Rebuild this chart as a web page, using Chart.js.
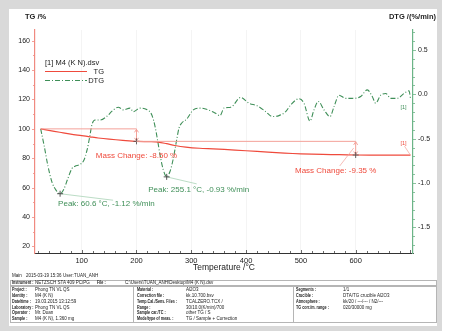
<!DOCTYPE html>
<html><head><meta charset="utf-8">
<script src="https://cdn.jsdelivr.net/npm/chart.js@4/dist/chart.umd.min.js"></script>
<style>
html,body{margin:0;padding:0;background:#fff;width:449px;height:331px;overflow:hidden;font-family:"Liberation Sans",Arial,sans-serif;}
#frame{position:absolute;left:0;top:0;width:442px;height:331px;background:#d9d9d9;}
#page{position:absolute;left:9px;top:9px;width:428px;height:317px;background:#fff;}
#c{position:absolute;left:0;top:0;}
.t{position:absolute;font-size:10px;color:#222;white-space:nowrap;line-height:10px;transform:scale(0.45);transform-origin:0 50%;}
.b{font-weight:bold;transform:scale(0.37,0.45);}
.box{position:absolute;border:0.8px solid #b5b5b5;box-sizing:border-box;}
.vl{position:absolute;width:0;border-left:0.8px solid #b5b5b5;}
</style></head>
<body>
<div id="frame"></div><div id="page"></div>
<canvas id="c" width="449" height="278"></canvas>
<div id="info"></div>
<script>
// ---------- data ----------
const tgTemp = [25.2, 40, 60, 80, 100, 115, 130, 150, 175, 200, 225, 240, 255, 270, 290, 315, 340, 360, 400, 440, 470, 500, 540, 570, 600, 650, 700];
const tgMass = [100.0, 99.0, 97.7, 96.4, 95.4, 94.6, 93.8, 93.0, 92.2, 91.5, 91.3, 91.0, 89.9, 88.7, 87.6, 86.8, 86.4, 86.0, 85.1, 84.2, 83.5, 83.0, 82.6, 82.4, 82.2, 82.1, 82.1];
const dtgTemp = [25.2, 31.2, 38.5, 45.8, 53.1, 60.6, 67.7, 74.1, 81.8, 87.8, 96.9, 104.2, 109.7, 114.3, 118.8, 124.3, 133.4, 145.6, 155.3, 166.8, 175.9, 188.2, 194.2, 206.4, 218.6, 227.8, 233.8, 238.3, 242.9, 248.9, 255.1, 261.1, 266.6, 273.4, 277.6, 283.0, 291.6, 303.7, 315.9, 331.0, 343.3, 352.4, 359.7, 372.1, 390.2, 405.3, 420.5, 435.8, 447.8, 460.0, 472.3, 481.4, 496.6, 505.7, 516.6, 523.9, 531.8, 542.2, 553.1, 560.4, 569.6, 581.8, 593.8, 609.2, 621.2, 630.3, 636.5, 645.6, 654.8, 663.9, 675.9, 688.2, 697.3, 700.4];
const dtgRate = [-0.39, -0.57, -0.81, -0.99, -1.08, -1.12, -1.065, -0.96, -0.84, -0.81, -0.79, -0.74, -0.63, -0.49, -0.34, -0.29, -0.29, -0.25, -0.19, -0.145, -0.175, -0.155, -0.195, -0.155, -0.17, -0.23, -0.36, -0.51, -0.68, -0.85, -0.93, -0.87, -0.74, -0.51, -0.38, -0.32, -0.28, -0.175, -0.155, -0.175, -0.21, -0.24, -0.155, -0.145, -0.035, -0.10, -0.13, -0.195, -0.25, -0.24, -0.195, -0.12, -0.05, -0.10, -0.30, -0.175, -0.08, -0.175, -0.25, -0.14, -0.01, -0.045, -0.045, -0.025, 0.05, -0.025, -0.10, -0.01, 0.01, -0.045, -0.045, 0.01, 0.04, -0.06];
const tempTicks = [100, 200, 300, 400, 500, 600];
const tgTicks = [20, 40, 60, 80, 100, 120, 140, 160];
const dtgTicks = [0.5, 0.0, -0.5, -1.0, -1.5];
const massSteps = [
  {from: 25.2, at: 200, ref: 100, val: 91.5, label: 'Mass Change: -8.50 %'},
  {from: 200, at: 600, ref: 91.5, val: 82.2, label: 'Mass Change: -9.35 %'}
];
const peaks = [
  {t: 60.6, v: -1.12, label: 'Peak: 60.6 °C, -1.12 %/min'},
  {t: 255.1, v: -0.93, label: 'Peak: 255.1 °C, -0.93 %/min'}
];
const fileName = '[1] M4 (K N).dsv';

// ---------- colours ----------
const RED = '#ef4a3c', RED_L = '#f4a199', GREEN = '#3f8f58', GREEN_L = '#a9d3b6';
const FONT = '"Liberation Sans", Arial, sans-serif';

const pts = (xs, ys) => xs.map((x, i) => ({x, y: ys[i]}));
const fixTicks = vals => s => { s.ticks = vals.map(v => ({value: v})); };

const overlay = {
  id: 'overlay',
  afterDraw(chart) {
    const {ctx, scales} = chart;
    const X = scales.x, L = scales.yTG, R = scales.yDTG;
    const ca = chart.chartArea;
    ctx.save();
    ctx.lineWidth = 0.8;
    ctx.strokeStyle = '#444';
    for (let t = 20; t <= 700; t += 20) {
      const p = Math.round(X.getPixelForValue(t)) + 0.5;
      const len = (t % 100 === 0) ? 3 : 2;
      ctx.beginPath(); ctx.moveTo(p, ca.bottom); ctx.lineTo(p, ca.bottom - len); ctx.stroke();
    }
    ctx.strokeStyle = '#f08a80';
    for (let v = 20; v <= 160; v += 10) {
      const p = Math.round(L.getPixelForValue(v)) + 0.5;
      const len = (v % 20 === 0) ? 3 : 2;
      ctx.beginPath(); ctx.moveTo(ca.left, p); ctx.lineTo(ca.left - len, p); ctx.stroke();
    }
    ctx.strokeStyle = '#6cb487';
    for (let k = -17; k <= 7; k++) {
      const v = k / 10;
      const p = Math.round(R.getPixelForValue(v)) + 0.5;
      const len = (k % 5 === 0) ? 3 : 2;
      ctx.beginPath(); ctx.moveTo(ca.right, p); ctx.lineTo(ca.right + len, p); ctx.stroke();
    }
    ctx.fillStyle = '#222';
    ctx.textBaseline = 'middle';
    ctx.font = 'bold 7.5px ' + FONT;
    ctx.textAlign = 'left';
    ctx.fillText('TG /%', 25, 17);
    ctx.textAlign = 'right';
    ctx.fillText('DTG /(%/min)', 436, 17);
    ctx.font = '8.5px ' + FONT;
    ctx.textAlign = 'center';
    ctx.fillText('Temperature /°C', 224, 267.5);

    ctx.font = '7.5px ' + FONT;
    ctx.textAlign = 'left';
    ctx.fillStyle = '#222';
    ctx.fillText(fileName, 45, 62.5);
    ctx.lineWidth = 1;
    ctx.strokeStyle = RED;
    ctx.beginPath(); ctx.moveTo(45, 71.5); ctx.lineTo(87, 71.5); ctx.stroke();
    ctx.strokeStyle = GREEN;
    ctx.setLineDash([5, 2, 1, 2]);
    ctx.beginPath(); ctx.moveTo(45, 80.5); ctx.lineTo(87, 80.5); ctx.stroke();
    ctx.setLineDash([]);
    ctx.textAlign = 'right';
    ctx.fillText('TG', 104, 71.5);
    ctx.fillText('DTG', 104, 80.5);

    const arrow = (x, y, dir) => {
      ctx.beginPath(); ctx.moveTo(x - 2, y + 3 * dir); ctx.lineTo(x, y); ctx.lineTo(x + 2, y + 3 * dir); ctx.stroke();
    };
    const plus = (x, y, col) => {
      ctx.strokeStyle = col; ctx.lineWidth = 0.9;
      ctx.beginPath(); ctx.moveTo(x - 3, y); ctx.lineTo(x + 3, y); ctx.moveTo(x, y - 3); ctx.lineTo(x, y + 3); ctx.stroke();
    };
    massSteps.forEach((m, i) => {
      const x0 = X.getPixelForValue(m.from), x1 = X.getPixelForValue(m.at);
      const yr = L.getPixelForValue(m.ref), yv = L.getPixelForValue(m.val);
      ctx.strokeStyle = RED_L; ctx.lineWidth = 1;
      ctx.beginPath(); ctx.moveTo(x0, yr); ctx.lineTo(x1, yr); ctx.lineTo(x1, yv); ctx.stroke();
      arrow(x1, yr + 0.5, 1); arrow(x1, yv - 0.5, -1);
      plus(x1, yv, '#555');
      ctx.fillStyle = RED; ctx.font = '8px ' + FONT; ctx.textAlign = 'center';
      if (i === 0) {
        ctx.fillText(m.label, x1, yv + 14);
      } else {
        ctx.strokeStyle = RED_L; ctx.lineWidth = 0.7;
        ctx.beginPath(); ctx.moveTo(x1 - 16, yv + 11); ctx.lineTo(x1 - 2, yv - 7); ctx.stroke();
        ctx.fillText(m.label, x1 - 20, yv + 16);
      }
    });
    const tgEnd = X.getPixelForValue(tgTemp[tgTemp.length - 1]);
    const tgEndY = L.getPixelForValue(tgMass[tgMass.length - 1]);
    ctx.strokeStyle = RED_L; ctx.lineWidth = 0.7;
    ctx.beginPath(); ctx.moveTo(tgEnd - 6, tgEndY - 9); ctx.lineTo(tgEnd, tgEndY); ctx.stroke();
    ctx.font = '5.5px ' + FONT; ctx.textAlign = 'center';
    ctx.fillStyle = RED; ctx.fillText('[1]', tgEnd - 7, tgEndY - 12);
    ctx.fillStyle = GREEN; ctx.fillText('[1]', tgEnd - 7, R.getPixelForValue(dtgRate[dtgRate.length - 1]) + 8);

    peaks.forEach((p, i) => {
      const x = X.getPixelForValue(p.t), y = R.getPixelForValue(p.v);
      ctx.strokeStyle = GREEN_L; ctx.lineWidth = 0.8;
      ctx.beginPath(); ctx.moveTo(x, y);
      if (i === 0) ctx.lineTo(x + 53, y + 6.5); else ctx.lineTo(x + 30, y + 7);
      ctx.stroke();
      plus(x, y, '#444');
      ctx.fillStyle = GREEN; ctx.font = '8px ' + FONT; ctx.textAlign = 'left';
      if (i === 0) ctx.fillText(p.label, x - 2, y + 10);
      else ctx.fillText(p.label, x - 18.5, y + 13);
    });
    ctx.restore();
  }
};

new Chart(document.getElementById('c'), {
  type: 'line',
  data: {
    datasets: [
      {label: 'TG', data: pts(tgTemp, tgMass), yAxisID: 'yTG', borderColor: RED, borderWidth: 1.2, pointRadius: 0, tension: 0.3},
      {label: 'DTG', data: pts(dtgTemp, dtgRate), yAxisID: 'yDTG', borderColor: GREEN, borderWidth: 1.1, borderDash: [5, 2, 1, 2], pointRadius: 0, tension: 0.4, cubicInterpolationMode: 'monotone'}
    ]
  },
  options: {
    responsive: false, animation: false, devicePixelRatio: 1,
    layout: {padding: {top: 30, left: 0, right: 0, bottom: 0}},
    plugins: {legend: {display: false}, tooltip: {enabled: false}},
    scales: {
      x: {
        type: 'linear', min: 14.8, max: 704.6,
        afterBuildTicks: fixTicks(tempTicks),
        afterFit: s => { s.height = 25; },
        grid: {display: true, drawOnChartArea: true, drawTicks: false, color: '#f1f1f1', lineWidth: 0.8},
        border: {display: true, color: '#333', width: 1},
        ticks: {font: {size: 7.5, family: FONT}, color: '#222', padding: 3, maxRotation: 0}
      },
      yTG: {
        position: 'left', min: 15.5, max: 167.3,
        afterBuildTicks: fixTicks(tgTicks),
        afterFit: s => { s.width = 35; },
        grid: {display: false, drawTicks: false},
        border: {display: true, color: '#f08a80', width: 1.2},
        ticks: {font: {size: 7, family: FONT}, color: '#222', padding: 5}
      },
      yDTG: {
        position: 'right', min: -1.788, max: 0.725,
        afterBuildTicks: fixTicks(dtgTicks),
        afterFit: s => { s.width = 36; },
        grid: {display: false, drawTicks: false},
        border: {display: true, color: '#6cb487', width: 1.2},
        ticks: {font: {size: 7, family: FONT}, color: '#222', padding: 5, callback: v => v.toFixed(1)}
      }
    }
  },
  plugins: [overlay]
});

// ---------- info block ----------
const headerLine = [['Main', 11.7], ['2015-03-19 15:36', 26], ['User:', 63], ['TUAN_ANH', 74]];
const instrRow = [['Instrument :', 11.7, true], ['NETZSCH STA 409 PC/PG', 35, false], ['File :', 96.7, true], ['C:\\Users\\TUAN_ANH\\Desktop\\M4 (K N).dsv', 125, false]];
const col1Labels = ['Project :', 'Identity :', 'Date/time :', 'Laboratory :', 'Operator :', 'Sample :'];
const col1Values = ['Phong TN VL QS', 'M4 (K N)', '19.03.2015 13:12:59', 'Phong TN VL QS', 'Mr. Doan', 'M4 (K N), 1.360 mg'];
const col2Labels = ['Material :', 'Correction file :', 'Temp.Cal./Sens. Files :', 'Range :', 'Sample car./TC :', 'Mode/type of meas. :'];
const col2Values = ['Al2O3', 'kk.10.700.bsv', 'TCALZERO.TCX /', '30/10.0(K/min)/700', 'other TG / S', 'TG / Sample + Correction'];
const col3Labels = ['Segments :', 'Crucible :', 'Atmosphere :', 'TG corr./m. range :'];
const col3Values = ['1/1', 'DTA/TG crucible Al2O3', 'kk/20 / ---/--- / N2/---', '020/30000 mg'];

const info = document.getElementById('info');
const add = (txt, x, yc, bold) => {
  const s = document.createElement('div');
  s.className = 't' + (bold ? ' b' : '');
  s.style.left = x + 'px'; s.style.top = (yc - 5) + 'px';
  s.textContent = txt; info.appendChild(s);
};
const box = (l, t, w, h) => { const d = document.createElement('div'); d.className = 'box'; d.style.cssText = `left:${l}px;top:${t}px;width:${w}px;height:${h}px`; info.appendChild(d); };
const vl = (x, t, h) => { const d = document.createElement('div'); d.className = 'vl'; d.style.cssText = `left:${x}px;top:${t}px;height:${h}px`; info.appendChild(d); };
box(10, 279.5, 427, 6.5);
box(10, 285.5, 427, 37.5);
vl(133.3, 285.5, 37.5);
vl(293.3, 285.5, 37.5);
headerLine.forEach(h => add(h[0], h[1], 275.5, false));
instrRow.forEach(h => add(h[0], h[1], 282.8, h[2]));
const rowY = i => 290 + i * 5.85;
col1Labels.forEach((l, i) => { add(l, 11.7, rowY(i), true); add(col1Values[i], 35, rowY(i), false); });
col2Labels.forEach((l, i) => { add(l, 136.7, rowY(i), true); add(col2Values[i], 186, rowY(i), false); });
col3Labels.forEach((l, i) => { add(l, 295.7, rowY(i), true); add(col3Values[i], 343.3, rowY(i), false); });
</script>
</body></html>
